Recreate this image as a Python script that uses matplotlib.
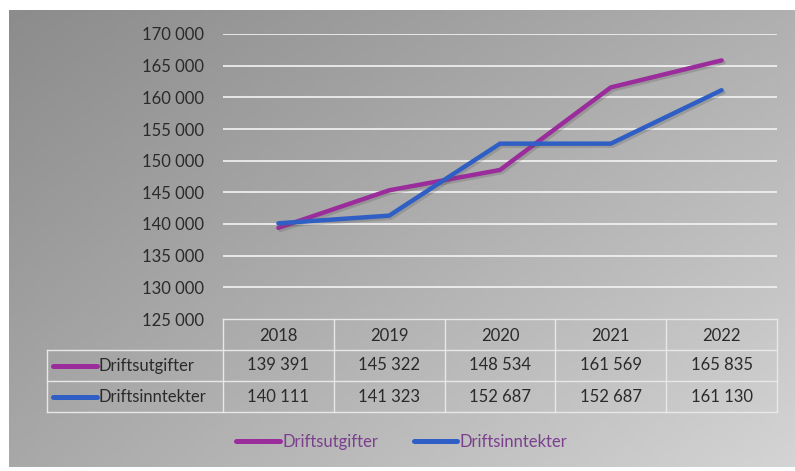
import numpy as np
import matplotlib
matplotlib.use("Agg")
import matplotlib.pyplot as plt
from matplotlib import patheffects as pe

years = ["2018", "2019", "2020", "2021", "2022"]
series_names = ["Driftsutgifter", "Driftsinntekter"]
utgifter = [139391, 145322, 148534, 161569, 165835]
inntekter = [140111, 141323, 152687, 152687, 161130]
yticks = [125000, 130000, 135000, 140000, 145000, 150000, 155000, 160000, 165000, 170000]

colors = ["#9b2c9c", "#2f5fc4"]
text_col = "#2a2a2a"
legend_text_col = "#7b3f8e"
FONT = ["Lato", "DejaVu Sans"]
FS = 12

def fmt(v):
    return f"{v:,}".replace(",", " ")

W, H = 795, 471
fig = plt.figure(figsize=(W / 100, H / 100), dpi=100)
fig.patch.set_facecolor("white")

def rect(x0, y0, x1, y1):
    return [x0 / W, 1 - y1 / H, (x1 - x0) / W, (y1 - y0) / H]

# gradient background panel
bg = fig.add_axes(rect(9, 10, 795, 467))
u = np.linspace(0, 1, 200)[None, :]
v = np.linspace(0, 1, 120)[:, None]
c = (140 + 36 * u + 28 * v + 8 * u * v) / 255.0
img = np.dstack([c, c, c])
bg.imshow(img, aspect="auto", extent=[0, 1, 0, 1], origin="upper")
bg.set_axis_off()

# main plot axes
ax = fig.add_axes(rect(223, 34, 777, 319))
ax.set_facecolor("none")
x = np.arange(len(years))
ax.set_xlim(-0.5, len(years) - 0.5)
ax.set_ylim(yticks[0], yticks[-1])
ax.set_yticks(yticks)
ax.set_yticklabels([fmt(t) for t in yticks], fontsize=FS, color=text_col, family=FONT)
ax.tick_params(axis="y", length=0, pad=13.5)
ax.set_xticks([])
for s in ax.spines.values():
    s.set_visible(False)
for t in yticks[1:]:
    ax.axhline(t, color="#f4f4f4", lw=1.2, zorder=1)

shadow = [pe.SimpleLineShadow(offset=(1.5, -1.5), alpha=0.25, shadow_color="#555555"), pe.Normal()]
handles = []
for vals, col, name in zip([utgifter, inntekter], colors, series_names):
    ln, = ax.plot(x, vals, color=col, lw=3.2, solid_capstyle="round", solid_joinstyle="miter",
                  zorder=3, path_effects=shadow, label=name)
    handles.append(ln)

# data table
tax = fig.add_axes(rect(223, 319, 777, 412))
tax.set_xlim(-0.5, len(years) - 0.5)
tax.set_ylim(3, 0)
tax.set_axis_off()
left_x = -0.5 - (223 - 47) / 110.8
gcol = "#e8e8e8"
tax.plot([-0.5, len(years) - 0.5], [0, 0], color=gcol, lw=1, clip_on=False)
for i in range(len(years) + 1):
    tax.plot([i - 0.5, i - 0.5], [0, 3], color=gcol, lw=1, clip_on=False)
for yy in [1, 2, 3]:
    tax.plot([left_x, len(years) - 0.5], [yy, yy], color=gcol, lw=1, clip_on=False)
tax.plot([left_x, left_x], [1, 3], color=gcol, lw=1, clip_on=False)

for i, yr in enumerate(years):
    tax.text(i, 0.55, yr, ha="center", va="center", fontsize=FS, color=text_col, family=FONT)
for r, (vals, col, name) in enumerate(zip([utgifter, inntekter], colors, series_names)):
    for i, vv in enumerate(vals):
        tax.text(i, r + 1.5, fmt(vv), ha="center", va="center", fontsize=FS, color=text_col, family=FONT)
    k0 = left_x + (53 - 47) / 110.8
    k1 = left_x + (97 - 47) / 110.8
    tax.plot([k0, k1], [r + 1.5, r + 1.5], color=col, lw=3.6, solid_capstyle="round", clip_on=False)
    tax.text(left_x + (99 - 47) / 110.8, r + 1.5, name, ha="left", va="center", fontsize=FS,
             color=text_col, family=FONT, clip_on=False)

# legend
leg = fig.legend(handles=handles, loc="center", bbox_to_anchor=(402 / W, 1 - 442 / H), ncol=2,
                 frameon=False, handlelength=2.6, handletextpad=0.15, columnspacing=2.15,
                 prop={"family": FONT, "size": FS})
for t in leg.get_texts():
    t.set_color(legend_text_col)
for lh in leg.get_lines():
    lh.set_linewidth(3.6)
    lh.set_path_effects([])

fig.savefig("out.png", dpi=100)
